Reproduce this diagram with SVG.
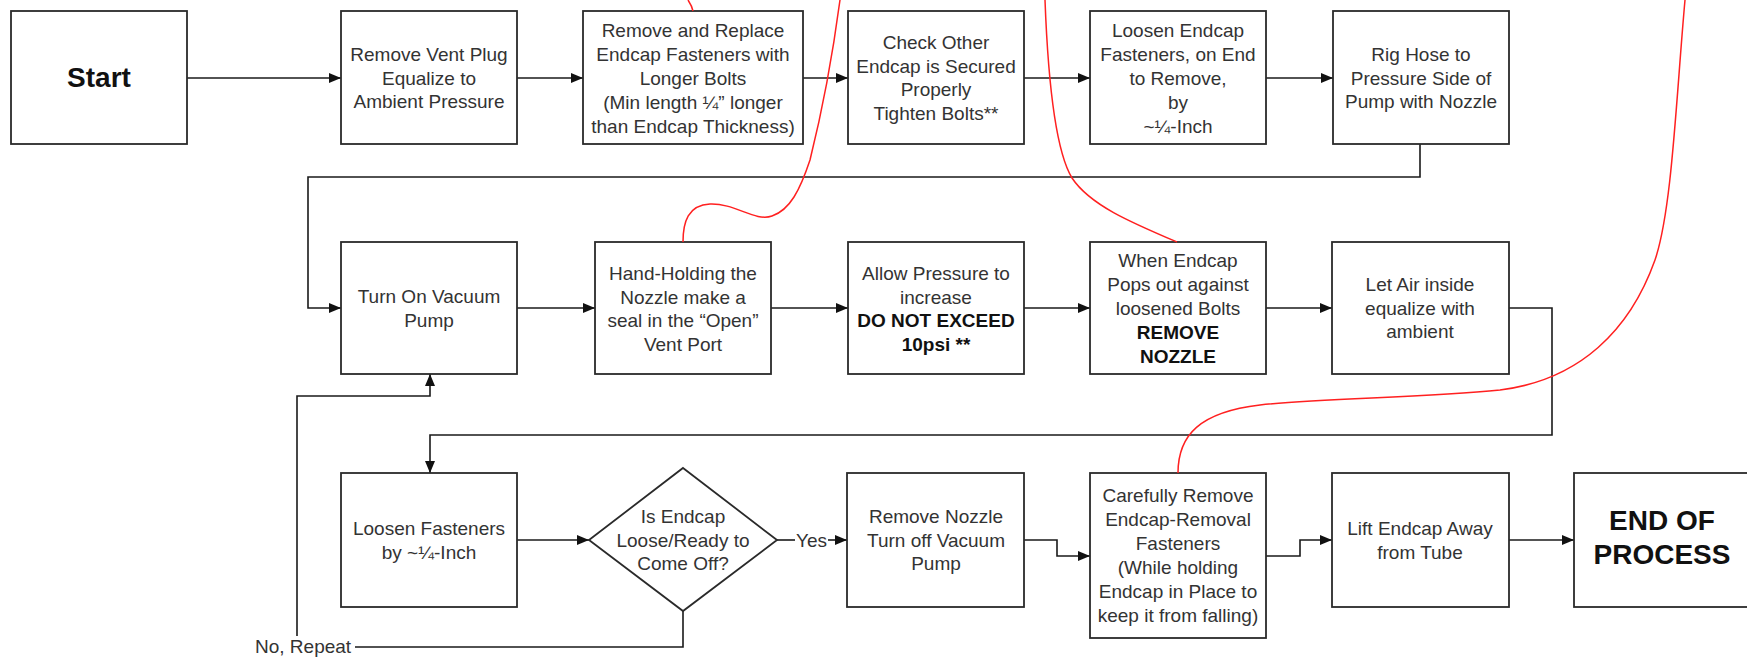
<svg xmlns="http://www.w3.org/2000/svg" width="1747" height="657" viewBox="0 0 1747 657">
<defs>
<marker id="arr" markerWidth="12" markerHeight="10" refX="12" refY="5" orient="auto" markerUnits="userSpaceOnUse">
<path d="M0,0 L12,5 L0,10 Z" fill="#111"/>
</marker>
<style>
.box{fill:#fff;stroke:#2a2a2a;stroke-width:1.8}
.t{font-family:"Liberation Sans",Arial,sans-serif;font-size:19px;fill:#333;text-anchor:middle}
.b{font-weight:bold;fill:#111}
.big{font-family:"Liberation Sans",Arial,sans-serif;font-size:28px;font-weight:bold;fill:#111;text-anchor:middle}
.c{fill:none;stroke:#1a1a1a;stroke-width:1.6}
.red{fill:none;stroke:#ff2020;stroke-width:1.5}
</style>
</defs>
<rect width="1747" height="657" fill="#fff"/>

<g id="connectors">
<path class="c" d="M187 78 H341" marker-end="url(#arr)"/>
<path class="c" d="M517 78 H583" marker-end="url(#arr)"/>
<path class="c" d="M803 78 H848" marker-end="url(#arr)"/>
<path class="c" d="M1024 78 H1090" marker-end="url(#arr)"/>
<path class="c" d="M1266 78 H1333" marker-end="url(#arr)"/>
<path class="c" d="M1420 144 V177 H308 V308 H341" marker-end="url(#arr)"/>
<path class="c" d="M517 308 H595" marker-end="url(#arr)"/>
<path class="c" d="M771 308 H848" marker-end="url(#arr)"/>
<path class="c" d="M1024 308 H1090" marker-end="url(#arr)"/>
<path class="c" d="M1266 308 H1332" marker-end="url(#arr)"/>
<path class="c" d="M1509 308 H1552 V435 H430 V473" marker-end="url(#arr)"/>
<path class="c" d="M517 540 H589" marker-end="url(#arr)"/>
<path class="c" d="M777 540 H795"/>
<path class="c" d="M828 540 H847" marker-end="url(#arr)"/>
<text class="t" x="811.5" y="547">Yes</text>
<path class="c" d="M683 611 V647 H355"/>
<text class="t" x="255" y="653" style="text-anchor:start">No, Repeat</text>
<path class="c" d="M297 636 V396 H430 V374" marker-end="url(#arr)"/>
<path class="c" d="M1024 540 H1057 V556 H1090" marker-end="url(#arr)"/>
<path class="c" d="M1266 556 H1300 V540 H1332" marker-end="url(#arr)"/>
<path class="c" d="M1509 540 H1574" marker-end="url(#arr)"/>
</g>

<g id="start"><rect class="box" x="11" y="11" width="176" height="133"/>
<text class="big" x="99" y="87">Start</text></g>

<g id="vent-plug"><rect class="box" x="341" y="11" width="176" height="133"/>
<text class="t" x="429" y="61">Remove Vent Plug<tspan x="429" dy="23.5">Equalize to</tspan><tspan x="429" dy="23.5">Ambient Pressure</tspan></text></g>

<g id="replace-fasteners"><rect class="box" x="583" y="11" width="220" height="133"/>
<text class="t" x="693" y="37">Remove and Replace<tspan x="693" dy="24">Endcap Fasteners with</tspan><tspan x="693" dy="24">Longer Bolts</tspan><tspan x="693" dy="24">(Min length ¼” longer</tspan><tspan x="693" dy="24">than Endcap Thickness)</tspan></text></g>

<g id="check-other"><rect class="box" x="848" y="11" width="176" height="133"/>
<text class="t" x="936" y="49">Check Other<tspan x="936" dy="23.5">Endcap is Secured</tspan><tspan x="936" dy="23.5">Properly</tspan><tspan x="936" dy="23.5">Tighten Bolts**</tspan></text></g>

<g id="loosen-endcap"><rect class="box" x="1090" y="11" width="176" height="133"/>
<text class="t" x="1178" y="37">Loosen Endcap<tspan x="1178" dy="24">Fasteners, on End</tspan><tspan x="1178" dy="24">to Remove,</tspan><tspan x="1178" dy="24">by</tspan><tspan x="1178" dy="24">~¼-Inch</tspan></text></g>

<g id="rig-hose"><rect class="box" x="1333" y="11" width="176" height="133"/>
<text class="t" x="1421" y="61">Rig Hose to<tspan x="1421" dy="23.5">Pressure Side of</tspan><tspan x="1421" dy="23.5">Pump with Nozzle</tspan></text></g>

<g id="turn-on"><rect class="box" x="341" y="242" width="176" height="132"/>
<text class="t" x="429" y="303">Turn On Vacuum<tspan x="429" dy="23.5">Pump</tspan></text></g>

<g id="hand-holding"><rect class="box" x="595" y="242" width="176" height="132"/>
<text class="t" x="683" y="280">Hand-Holding the<tspan x="683" dy="23.5">Nozzle make a</tspan><tspan x="683" dy="23.5">seal in the “Open”</tspan><tspan x="683" dy="23.5">Vent Port</tspan></text></g>

<g id="allow-pressure"><rect class="box" x="848" y="242" width="176" height="132"/>
<text class="t" x="936" y="280">Allow Pressure to<tspan x="936" dy="23.5">increase</tspan><tspan x="936" dy="23.5" class="b">DO NOT EXCEED</tspan><tspan x="936" dy="23.5" class="b">10psi **</tspan></text></g>

<g id="when-endcap"><rect class="box" x="1090" y="242" width="176" height="132"/>
<text class="t" x="1178" y="267">When Endcap<tspan x="1178" dy="24">Pops out against</tspan><tspan x="1178" dy="24">loosened Bolts</tspan><tspan x="1178" dy="24" class="b">REMOVE</tspan><tspan x="1178" dy="24" class="b">NOZZLE</tspan></text></g>

<g id="let-air"><rect class="box" x="1332" y="242" width="177" height="132"/>
<text class="t" x="1420" y="291">Let Air inside<tspan x="1420" dy="23.5">equalize with</tspan><tspan x="1420" dy="23.5">ambient</tspan></text></g>

<g id="loosen-fasteners"><rect class="box" x="341" y="473" width="176" height="134"/>
<text class="t" x="429" y="535">Loosen Fasteners<tspan x="429" dy="23.5">by ~¼-Inch</tspan></text></g>

<g id="decision"><path class="box" d="M683 468 L777 540 L683 611 L589 540 Z"/>
<text class="t" x="683" y="523">Is Endcap<tspan x="683" dy="23.5">Loose/Ready to</tspan><tspan x="683" dy="23.5">Come Off?</tspan></text></g>

<g id="remove-nozzle"><rect class="box" x="847" y="473" width="177" height="134"/>
<text class="t" x="936" y="523">Remove Nozzle<tspan x="936" dy="23.5">Turn off Vacuum</tspan><tspan x="936" dy="23.5">Pump</tspan></text></g>

<g id="carefully-remove"><rect class="box" x="1090" y="473" width="176" height="165"/>
<text class="t" x="1178" y="502">Carefully Remove<tspan x="1178" dy="24">Endcap-Removal</tspan><tspan x="1178" dy="24">Fasteners</tspan><tspan x="1178" dy="24">(While holding</tspan><tspan x="1178" dy="24">Endcap in Place to</tspan><tspan x="1178" dy="24">keep it from falling)</tspan></text></g>

<g id="lift-endcap"><rect class="box" x="1332" y="473" width="177" height="134"/>
<text class="t" x="1420" y="535">Lift Endcap Away<tspan x="1420" dy="23.5">from Tube</tspan></text></g>

<g id="end"><rect class="box" x="1574" y="473" width="190" height="134"/>
<text class="big" x="1662" y="530">END OF<tspan x="1662" dy="34">PROCESS</tspan></text></g>

<g id="red-marks">
<path class="red" d="M693 11 C692 6 690 3 688 0"/>
<path class="red" d="M683 242 C683 222 688 205 710 204 C735 203 755 222 772 216 C790 210 800 190 810 160 C820 120 832 60 840 0"/>
<path class="red" d="M1177 242 C1130 222 1090 205 1072 178 C1055 150 1048 80 1045 0"/>
<path class="red" d="M1178 473 C1178 435 1200 412 1260 405 C1320 398 1420 398 1500 390 C1580 380 1630 330 1655 260 C1672 210 1676 100 1685 0"/>
</g>
</svg>
